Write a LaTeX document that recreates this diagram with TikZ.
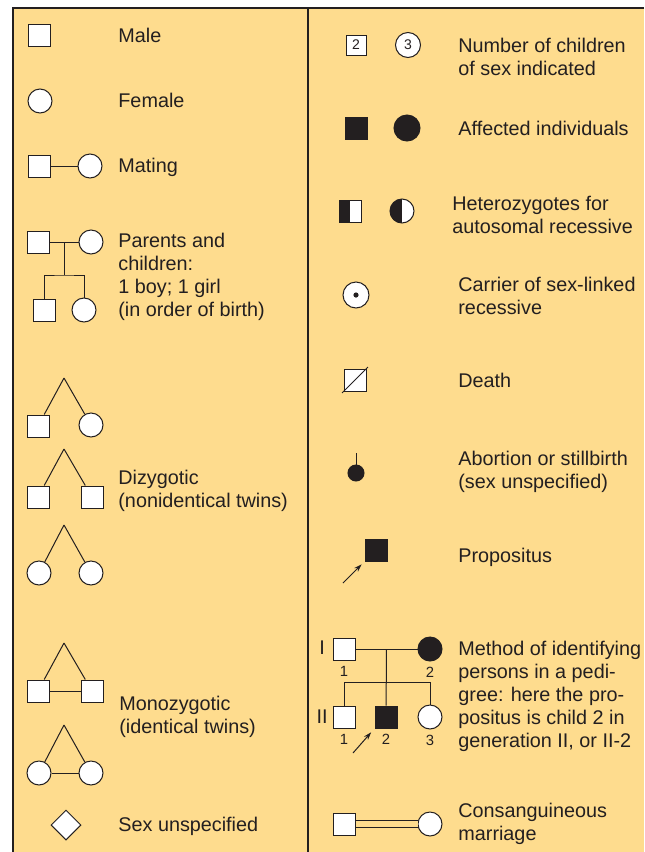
\documentclass[tikz,border=0pt]{standalone}
\usepackage{fontspec}
\setmainfont{Liberation Sans}
\usepackage{xcolor}
\usepackage{tikz}
\usetikzlibrary{arrows.meta,calc,shapes.geometric}

\definecolor{panel}{HTML}{FEDC8E}
\definecolor{ink}{HTML}{231F20}

\begin{document}
\begin{tikzpicture}[
  x=0.5pt, y=-0.5pt, color=ink,
  txt/.style={anchor=west, align=left, inner sep=0pt, font=\fontsize{9.9}{11.5}\selectfont},
  gen/.style={inner sep=0pt, font=\fontsize{9.9}{11.5}\selectfont},
  male/.style={draw=ink, line width=0.5pt, fill=white, rectangle, minimum size=11pt, inner sep=0pt},
  female/.style={draw=ink, line width=0.5pt, fill=white, circle, minimum size=12pt, inner sep=0pt},
  unsure/.style={draw=ink, line width=0.5pt, fill=white, diamond, aspect=1, minimum size=15pt, inner sep=0pt},
  affected/.style={fill=ink},
  hetero/.style={path picture={\fill[ink] (path picture bounding box.south west) rectangle (path picture bounding box.north);}},
  carrier/.style={path picture={\fill[ink] (path picture bounding box.center) circle (1.3pt);}},
  num/.style={inner sep=2.6pt, font=\fontsize{7.4}{8}\selectfont},
  link/.style={draw=ink, line width=0.5pt},
  arrow/.style={link, -{Stealth[length=4pt,width=2.6pt]}},
  panelrule/.style={draw=ink, line width=0.8pt}
]
\useasboundingbox (0,0) rectangle (644,852);
\fill[panel] (13,8) rectangle (644,852);
\draw[panelrule] (644,8) -- (13,8) -- (13,852);
\draw[panelrule] (308,8) -- (308,852);

% left column
\node[male] (m) at (39,35) {};
\node[txt] (tmale) at (118,35) {Male};
\node[female] (f) at (40,101) {};
\node[txt] (tfemale) at (118,100) {Female};

\node[male] (matm) at (39,166) {};
\node[female] (matf) at (90,166) {};
\node[txt] (tmating) at (118,167) {Mating};

\node[male] (parm) at (38,242) {};
\node[female] (parf) at (91,242) {};
\node[male] (boy) at (44,310) {};
\node[female] (girl) at (84,310) {};
\coordinate (parmid) at ($(parm.east)!.5!(parf.west)$);
\coordinate (sib) at (64,275);
\node[txt] (tparents) at (118,277) {Parents and\\children:\\1 boy; 1 girl\\(in order of birth)};

\coordinate (dz1) at (64,378);
\node[male] (dz1a) at (38,426) {};
\node[female] (dz1b) at (91,425) {};
\coordinate (dz2) at (64,449);
\node[male] (dz2a) at (38,497) {};
\node[male] (dz2b) at (92,497) {};
\coordinate (dz3) at (64,525);
\node[female] (dz3a) at (39,573) {};
\node[female] (dz3b) at (91,573) {};
\node[txt] (tdizyg) at (118,491) {Dizygotic\\(nonidentical twins)};

\coordinate (mz1) at (64,643);
\node[male] (mz1a) at (38,691) {};
\node[male] (mz1b) at (92,691) {};
\coordinate (mz2) at (64,725);
\node[female] (mz2a) at (39,773) {};
\node[female] (mz2b) at (91,773) {};
\node[txt] (tmonoz) at (119,717) {Monozygotic\\(identical twins)};

\node[unsure] (unsp) at (66,825) {};
\node[txt] (tsex) at (118,826) {Sex unspecified};

\draw[link] (matm) -- (matf);
\draw[link] (parm) -- (parf);
\draw[link] (parmid) -- (sib);
\draw[link] (boy) |- (sib) -| (girl);
\foreach \x/\y in {dz1/dz1a,dz1/dz1b,dz2/dz2a,dz2/dz2b,dz3/dz3a,dz3/dz3b,mz1/mz1a,mz1/mz1b,mz2/mz2a,mz2/mz2b,mz1a/mz1b,mz2a/mz2b}
  \draw[link] (\x) -- (\y);

% right column
\node[male, minimum size=10pt, font=\fontsize{7}{8}\selectfont] (nsq) at (356,45) {2};
\node[female, minimum size=12.5pt, font=\fontsize{7}{8}\selectfont] (ncir) at (408,45) {3};
\node[txt] (tnum) at (458,57) {Number of children\\of sex indicated};

\node[male, affected] (asq) at (356,128) {};
\node[female, affected, minimum size=13pt] (acir) at (407,128) {};
\node[txt] (taff) at (458,128) {Affected individuals};

\node[male, hetero] (hsq) at (350,211) {};
\node[female, hetero] (hcir) at (402,211) {};
\node[txt] (thet) at (452,215) {Heterozygotes for\\autosomal recessive};

\node[female, carrier, minimum size=13pt] (carr) at (356,295) {};
\node[txt] (tcarr) at (458,296) {Carrier of sex-linked\\recessive};

\node[male] (dead) at (355,380) {};
\node[txt] (tdead) at (458,380) {Death};

\node[female, affected, minimum size=8pt] (abort) at (356,473) {};
\coordinate (abtop) at (356,453);
\node[txt] (tabort) at (458,472) {Abortion or stillbirth\\(sex unspecified)};

\node[male, affected] (prop) at (376,550) {};
\coordinate (ptail) at (343,583);
\node[txt] (tprop) at (458,557) {Propositus};

\node[gen] (genI) at (322,648) {I};
\node[gen] (genII) at (322,717) {II};
\node[male, label={[num]below:1}] (a1) at (344,649) {};
\node[female, affected, label={[num]below:2}] (a2) at (430,649) {};
\node[male, label={[num]below:1}] (b1) at (344,717) {};
\node[male, affected, label={[num]below:2}] (b2) at (386,717) {};
\node[female, label={[num]below:3}] (b3) at (430,717) {};
\coordinate (amid) at ($(a1.east)!.5!(a2.west)$);
\coordinate (bsib) at (386,682);
\coordinate (btail) at (353,753);
\node[txt] (tmeth) at (458,696) {Method of identifying\\persons in a pedi-\\gree: here the pro-\\positus is child 2 in\\generation II, or II-2};

\node[male] (cm) at (344,824) {};
\node[female] (cf) at (430,824) {};
\node[txt] (tcons) at (458,824) {Consanguineous\\marriage};

\draw[link, shorten <=-1pt, shorten >=-1pt] (dead.south west) -- (dead.north east);
\draw[link] (abtop) -- (abort);
\draw[arrow, shorten >=2pt] (ptail) -- (prop.south west);
\draw[link] (a1) -- (a2);
\draw[link] (amid) -- (b2);
\draw[link] (b1) |- (bsib) -| (b3);
\draw[arrow, shorten >=2.5pt] (btail) -- (b2.south west);
\draw[link, double=panel, double distance=3.2pt] (cm) -- (cf);
\end{tikzpicture}
\end{document}
